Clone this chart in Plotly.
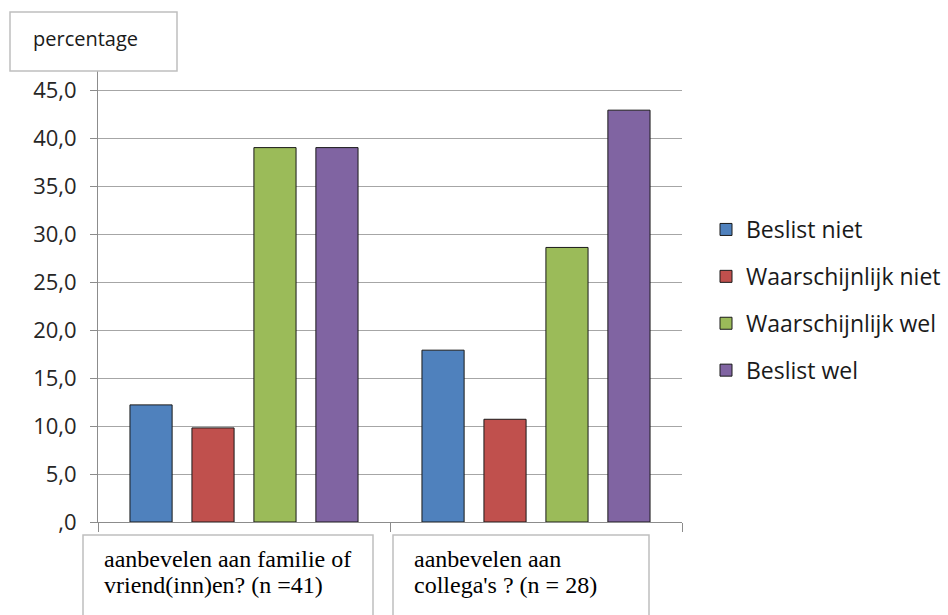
import plotly.graph_objects as go

# Survey answers (percent of respondents) for two recommendation questions
categories = [
    "aanbevelen aan familie of<br>vriend(inn)en? (n =41)",
    "aanbevelen aan<br>collega's ? (n = 28)",
]
series_names = ["Beslist niet", "Waarschijnlijk niet", "Waarschijnlijk wel", "Beslist wel"]
beslist_niet = [12.2, 17.9]
waarschijnlijk_niet = [9.8, 10.7]
waarschijnlijk_wel = [39.0, 28.6]
beslist_wel = [39.0, 42.9]
series_values = [beslist_niet, waarschijnlijk_niet, waarschijnlijk_wel, beslist_wel]
colors = ["#4F81BD", "#C0504D", "#9BBB59", "#8064A2"]

tick_vals = [0, 5, 10, 15, 20, 25, 30, 35, 40, 45, 50]
tick_text = [",0", "5,0", "10,0", "15,0", "20,0", "25,0", "30,0", "35,0", "40,0", "45,0", ""]

W, H = 948, 615
L, R, T, B = 98, 682, 42, 522  # plot area in pixels


def px(x):
    return (x - L) / (R - L)


def py(y):
    return (B - y) / (B - T)


fig = go.Figure()
for i, (name, vals) in enumerate(zip(series_names, series_values)):
    fig.add_trace(go.Bar(
        x=categories, y=vals, name=name,
        marker=dict(color=colors[i], line=dict(color="#1a1a1a", width=1)),
        legendgroup=name,
    ))

shapes = [
    # "percentage" title box
    dict(type="rect", xref="paper", yref="paper", x0=px(10), x1=px(177), y0=py(71), y1=py(12),
         line=dict(color="#BFBFBF", width=1.5), fillcolor="white", layer="above"),
    # category label boxes
    dict(type="rect", xref="paper", yref="paper", x0=px(83), x1=px(373), y0=py(535), y1=py(630),
         line=dict(color="#BFBFBF", width=1.5), fillcolor="white", layer="above"),
    dict(type="rect", xref="paper", yref="paper", x0=px(393), x1=px(649), y0=py(535), y1=py(630),
         line=dict(color="#BFBFBF", width=1.5), fillcolor="white", layer="above"),
]

annotations = [
    dict(text="percentage", xref="paper", yref="paper", x=px(85), y=py(38),
         xanchor="center", yanchor="middle", showarrow=False,
         font=dict(family="Open Sans", size=20, color="#1a1a1a")),
]
# category labels, one annotation per text line inside each box
label_left = [103, 413]
line_mid = [559, 585]
for cat, xl in zip(categories, label_left):
    for line, ym in zip(cat.split("<br>"), line_mid):
        annotations.append(dict(
            text=line, xref="paper", yref="paper", x=px(xl), y=py(ym),
            xanchor="left", yanchor="middle", align="left", showarrow=False, borderpad=0,
            font=dict(family="Liberation Serif", size=24, color="#000000"),
        ))

fig.update_layout(
    width=W, height=H,
    margin=dict(l=L, r=W - R, t=T, b=H - B, pad=0, autoexpand=False),
    paper_bgcolor="white", plot_bgcolor="white",
    barmode="group", bargap=0.151, bargroupgap=0.32,
    font=dict(family="Open Sans", color="#262626"),
    xaxis=dict(
        type="category", showticklabels=False, tickson="boundaries",
        ticks="outside", ticklen=9, tickcolor="#8C8C8C", tickwidth=1,
        showgrid=False, showline=True, linecolor="#8C8C8C", linewidth=1,
        zeroline=False,
    ),
    yaxis=dict(
        range=[0, 50], tickvals=tick_vals, ticktext=tick_text,
        ticks="outside", ticklen=7, tickcolor="#8C8C8C", tickwidth=1,
        showgrid=True, gridcolor="#A6A6A6", gridwidth=1,
        showline=True, linecolor="#8C8C8C", linewidth=1, zeroline=False,
        tickfont=dict(family="Open Sans", size=22, color="#262626"),
        ticklabelstandoff=9,
    ),
    legend=dict(
        x=px(706), y=py(300), xanchor="left", yanchor="middle",
        font=dict(family="Open Sans", size=23, color="#1a1a1a"),
        tracegroupgap=14, bgcolor="rgba(0,0,0,0)",
    ),
    shapes=shapes,
    annotations=annotations,
    showlegend=True,
)

fig.write_html("out.html")
